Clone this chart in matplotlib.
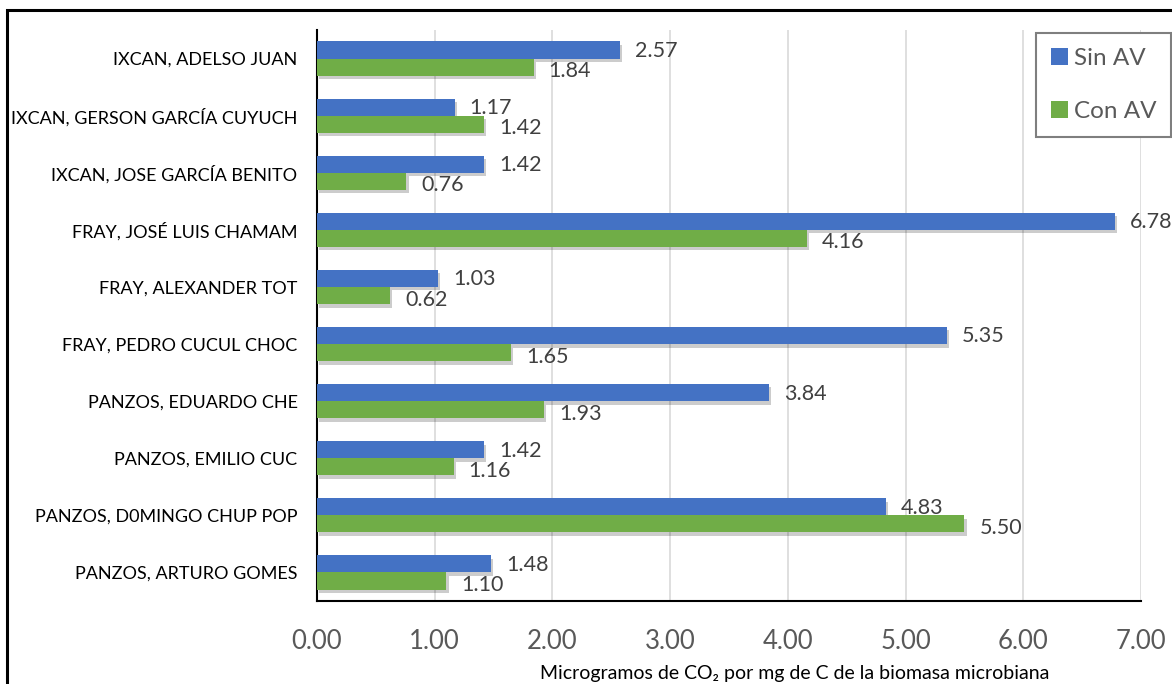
import matplotlib
matplotlib.use("Agg")
import matplotlib.pyplot as plt
import matplotlib.patheffects as pe
from matplotlib.patches import Patch, Rectangle
import numpy as np

plt.rcParams['font.family'] = ['Lato', 'DejaVu Sans']

categories = [
    "IXCAN, ADELSO JUAN",
    "IXCAN, GERSON GARCÍA CUYUCH",
    "IXCAN, JOSE GARCÍA BENITO",
    "FRAY, JOSÉ LUIS CHAMAM",
    "FRAY, ALEXANDER TOT",
    "FRAY, PEDRO CUCUL CHOC",
    "PANZOS, EDUARDO CHE",
    "PANZOS, EMILIO CUC",
    "PANZOS, D0MINGO CHUP POP",
    "PANZOS, ARTURO GOMES",
]
sin_av = [2.57, 1.17, 1.42, 6.78, 1.03, 5.35, 3.84, 1.42, 4.83, 1.48]
con_av = [1.84, 1.42, 0.76, 4.16, 0.62, 1.65, 1.93, 1.16, 5.50, 1.10]
xticks = [0, 1, 2, 3, 4, 5, 6, 7]
series_names = ["Sin AV", "Con AV"]

BLUE = "#4472C4"
GREEN = "#70AD47"

fig = plt.figure(figsize=(11.72, 6.84), dpi=100)
ax = fig.add_axes([317 / 1172, 1 - 601 / 684, (1141 - 317) / 1172, (601 - 30) / 684])

y = np.arange(len(categories))
h = 0.3
shadow = [pe.SimplePatchShadow(offset=(1.5, -2.5), shadow_rgbFace="#000000", alpha=0.2),
          pe.Normal()]
b1 = ax.barh(y - h / 2, sin_av, height=h, color=BLUE, zorder=3, path_effects=shadow)
b2 = ax.barh(y + h / 2, con_av, height=h, color=GREEN, zorder=3, path_effects=shadow)

for rect, v in zip(b1, sin_av):
    ax.annotate(f"{v:.2f}", (v, rect.get_y() + rect.get_height() / 2),
                xytext=(15, -1), textcoords="offset pixels",
                va="center", ha="left", fontsize=15.5, color="#404040", clip_on=False)
for rect, v in zip(b2, con_av):
    ax.annotate(f"{v:.2f}", (v, rect.get_y() + rect.get_height() / 2),
                xytext=(15, -4), textcoords="offset pixels",
                va="center", ha="left", fontsize=15.5, color="#404040", clip_on=False)

ax.set_ylim(len(categories) - 0.5, -0.5)
ax.set_xlim(0, 7)
ax.set_yticks(y)
ax.set_yticklabels(categories, fontsize=13, color="black")
ax.set_xticks(xticks)
ax.set_xticklabels([f"{t:.2f}" for t in xticks], fontsize=18.5, color="#595959")
ax.tick_params(axis="x", length=0, pad=20)
ax.tick_params(axis="y", length=0, pad=14)

ax.grid(axis="x", color="#D9D9D9", linewidth=1.2, zorder=0)
ax.set_axisbelow(True)
for s in ["top", "right"]:
    ax.spines[s].set_visible(False)
ax.spines["left"].set_linewidth(1.5)
ax.spines["bottom"].set_linewidth(1.5)
ax.spines["left"].set_color("black")
ax.spines["bottom"].set_color("black")

fig.text(795 / 1172, 1 - 673 / 684, "Microgramos de CO₂ por mg de C de la biomasa microbiana",
         ha="center", va="center", fontsize=14, color="black")

handles = [Patch(facecolor=BLUE), Patch(facecolor=GREEN)]
leg = fig.legend(handles, series_names, loc="upper left",
                 bbox_to_anchor=(1036 / 1172, 1 - 33 / 684),
                 fontsize=17.5, labelcolor="#595959", frameon=True, fancybox=False,
                 edgecolor="#7F7F7F", framealpha=1, handlelength=0.7, handleheight=0.7,
                 handletextpad=0.25, labelspacing=1.35, borderpad=0.6, borderaxespad=0)
leg.get_frame().set_linewidth(1.5)

# outer border of the figure
fig.patches.append(Rectangle((7 / 1172, -0.1), 1.2, 1 - 10 / 684 + 0.1,
                             transform=fig.transFigure, fill=False,
                             edgecolor="black", linewidth=2.2, zorder=10))

fig.savefig("out.png", dpi=100)
